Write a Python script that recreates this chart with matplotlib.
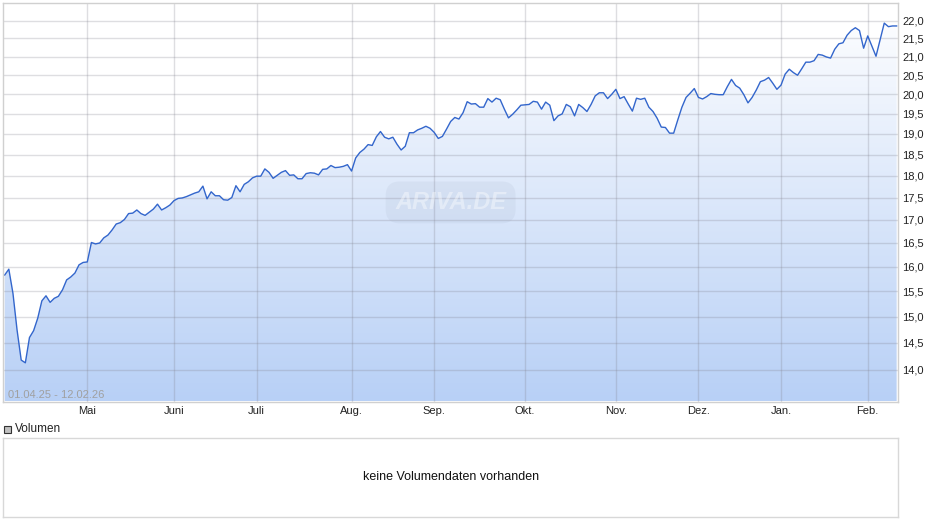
import numpy as np
import pandas as pd
import matplotlib

matplotlib.use('Agg')
import matplotlib.pyplot as plt
from matplotlib.patches import Rectangle
from matplotlib.ticker import NullLocator

plt.rcParams['font.family'] = ['Liberation Sans', 'DejaVu Sans']

# Schlusskurse 01.04.25 - 12.02.26
prices = [
    15.83, 15.95, 15.46, 14.74, 14.18, 14.13, 14.60, 14.73, 14.97, 15.31,
    15.41, 15.28, 15.36, 15.40, 15.53, 15.73, 15.79, 15.87, 16.04, 16.09,
    16.10, 16.51, 16.48, 16.50, 16.61, 16.67, 16.78, 16.91, 16.94, 17.01,
    17.14, 17.15, 17.22, 17.14, 17.10, 17.17, 17.24, 17.35, 17.22, 17.27,
    17.33, 17.43, 17.48, 17.49, 17.52, 17.56, 17.60, 17.63, 17.76, 17.47,
    17.63, 17.54, 17.54, 17.45, 17.44, 17.50, 17.77, 17.63, 17.80, 17.86,
    17.95, 17.99, 17.99, 18.16, 18.08, 17.94, 18.01, 18.08, 18.12, 18.01,
    18.02, 17.93, 17.93, 18.05, 18.07, 18.06, 18.02, 18.15, 18.16, 18.24,
    18.19, 18.20, 18.22, 18.26, 18.11, 18.42, 18.55, 18.63, 18.74, 18.72,
    18.93, 19.06, 18.92, 18.88, 18.92, 18.75, 18.61, 18.70, 19.03, 19.03,
    19.10, 19.14, 19.19, 19.14, 19.04, 18.89, 18.94, 19.12, 19.31, 19.41,
    19.37, 19.53, 19.81, 19.75, 19.76, 19.67, 19.67, 19.89, 19.80, 19.90,
    19.86, 19.62, 19.40, 19.49, 19.60, 19.72, 19.73, 19.74, 19.82, 19.80,
    19.62, 19.80, 19.72, 19.33, 19.45, 19.50, 19.74, 19.68, 19.45, 19.74,
    19.66, 19.56, 19.74, 19.96, 20.04, 20.04, 19.89, 20.00, 20.13, 19.89,
    19.94, 19.75, 19.57, 19.90, 19.87, 19.90, 19.67, 19.56, 19.39, 19.17,
    19.16, 19.02, 19.02, 19.35, 19.67, 19.92, 20.03, 20.15, 19.92, 19.88,
    19.94, 20.02, 20.00, 19.99, 19.99, 20.20, 20.39, 20.23, 20.16, 19.99,
    19.78, 19.92, 20.11, 20.33, 20.37, 20.44, 20.29, 20.13, 20.24, 20.53,
    20.66, 20.57, 20.50, 20.67, 20.85, 20.85, 20.89, 21.06, 21.04, 20.99,
    20.96, 21.20, 21.35, 21.38, 21.59, 21.72, 21.80, 21.72, 21.23, 21.57,
    21.29, 21.01, 21.46, 21.93, 21.83, 21.85, 21.85,
]

holidays = ['2025-04-18', '2025-04-21', '2025-05-01', '2025-06-09', '2025-08-15',
            '2025-10-03', '2025-12-24', '2025-12-25', '2025-12-26', '2026-01-01']
dates = pd.bdate_range('2025-04-01', '2026-02-11', freq='C', holidays=holidays)

month_names = {1: 'Jan.', 2: 'Feb.', 3: 'März', 4: 'Apr.', 5: 'Mai', 6: 'Juni',
               7: 'Juli', 8: 'Aug.', 9: 'Sep.', 10: 'Okt.', 11: 'Nov.', 12: 'Dez.'}
y_ticks = [14.0, 14.5, 15.0, 15.5, 16.0, 16.5, 17.0, 17.5, 18.0, 18.5,
           19.0, 19.5, 20.0, 20.5, 21.0, 21.5, 22.0]
range_text = '01.04.25 - 12.02.26'

x = np.arange(len(prices))
month_pos = [i for i in range(1, len(dates)) if dates[i].month != dates[i - 1].month]
month_lab = [month_names[dates[i].month] for i in month_pos]

W, H = 940, 526
fig = plt.figure(figsize=(W / 100, H / 100), dpi=100)
fig.patch.set_facecolor('white')

ax = fig.add_axes([3 / W, 1 - 401.5 / H, 895.3 / W, 398.2 / H])
ax.set_yscale('log')
y_low = 13.44

# Verlaufsfüllung unter der Kurve
poly = ax.fill_between(x, prices, y_low, color='none', lw=0)
grad = np.linspace(0, 1, 256).reshape(-1, 1)
top = np.array([1.0, 1.0, 1.0])
bottom = np.array([0xb8, 0xd0, 0xf6]) / 255
colors = (top * (1 - grad)[..., None] + bottom * grad[..., None])
img = ax.imshow(colors, extent=[0, 1, 0, 1], transform=ax.transAxes,
                aspect='auto', origin='upper', zorder=1, interpolation='bilinear')
img.set_clip_path(poly.get_paths()[0], transform=ax.transData)
ax.set_xlim(-0.41, 216.4)
ax.set_ylim(y_low, 22.5)

ax.plot(x, prices, color='#3366cc', lw=1.0, zorder=4)

ax.set_xticks(month_pos)
ax.set_xticklabels(month_lab)
ax.set_yticks(y_ticks)
ax.set_yticklabels([f'{v:.1f}'.replace('.', ',') for v in y_ticks])
ax.yaxis.set_minor_locator(NullLocator())
ax.yaxis.tick_right()
ax.tick_params(axis='y', length=0, pad=3, labelsize=8, colors='#222222')
ax.tick_params(axis='x', length=0, pad=3, labelsize=8, colors='#222222')
ax.grid(True, color=(0.5, 0.5, 0.55), alpha=0.26, lw=1, zorder=2)
ax.set_axisbelow(False)
for s in ax.spines.values():
    s.set_color('#d0d0d0')
    s.set_linewidth(1)
    s.set_zorder(5)

ax.text(0.006, 0.017, range_text, transform=ax.transAxes, fontsize=8,
        color='#a0a0a0', va='center', ha='left', zorder=6)

ax.text(0.5, 0.5, 'ARIVA.DE', transform=ax.transAxes, fontsize=17,
        fontweight='bold', fontstyle='italic', color='white', alpha=0.4,
        ha='center', va='center', zorder=3,
        bbox=dict(boxstyle='round,pad=0.4,rounding_size=0.6', fc=(0.55, 0.6, 0.7),
                  ec='none', alpha=0.1))

# Volumen-Bereich
fig.patches.append(Rectangle((4 / W, 1 - 433 / H), 7 / W, 7 / H,
                             transform=fig.transFigure, facecolor='#c0c0c0',
                             edgecolor='#333333', lw=0.8))
fig.text(15 / W, 1 - 429.5 / H, 'Volumen', fontsize=8.5, color='#222222',
         va='center', ha='left')

ax2 = fig.add_axes([3 / W, 1 - 517.3 / H, 895.3 / W, 79.6 / H])
ax2.set_xticks([])
ax2.set_yticks([])
for s in ax2.spines.values():
    s.set_color('#d8d8d8')
    s.set_linewidth(1)
ax2.text(0.5, 0.5, 'keine Volumendaten vorhanden', transform=ax2.transAxes,
         fontsize=9, color='#111111', ha='center', va='center')

fig.savefig('out.png', dpi=100)
